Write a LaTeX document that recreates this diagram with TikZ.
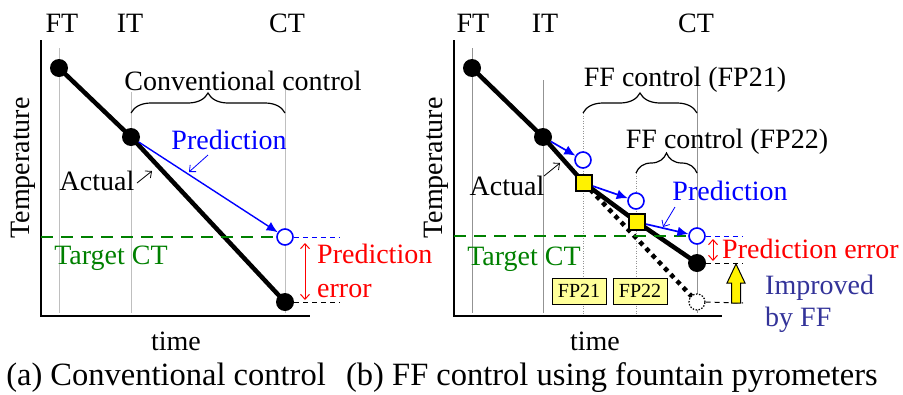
\documentclass[tikz,border=0pt]{standalone}
\usepackage{fontspec}
\setmainfont{Liberation Serif}
\usetikzlibrary{arrows.meta,decorations.pathreplacing}
\definecolor{tgreen}{RGB}{0,128,0}
\definecolor{impblue}{RGB}{51,51,153}
\definecolor{fpyellow}{RGB}{255,255,153}
\pgfdeclarelayer{bg}
\pgfsetlayers{bg,main}

\begin{document}
\begin{tikzpicture}[x=1pt,y=-1pt,
  lbl/.style={inner sep=0pt, font=\fontsize{28}{32}\selectfont},
  captxt/.style={inner sep=0pt, font=\fontsize{32.5}{36}\selectfont},
  axisline/.style={line width=1.6pt},
  guide/.style={gray!50, line width=0.8pt},
  guideb/.style={gray!85, line width=0.7pt},
  fpguide/.style={gray!85, line width=0.7pt, dash pattern=on 1pt off 1.5pt},
  actual/.style={line width=4.5pt},
  ghostline/.style={line width=4.5pt, dash pattern=on 4.5pt off 4.5pt},
  bdot/.style={circle, fill=black, inner sep=0pt, minimum size=18pt},
  pcirc/.style={circle, draw=blue, line width=1.6pt, fill=white, inner sep=0pt, minimum size=16pt},
  fpsq/.style={rectangle, draw=black, line width=2pt, fill=yellow, inner sep=0pt, minimum size=16pt},
  ghost/.style={circle, draw=black, line width=1.2pt, dash pattern=on 1.5pt off 1.5pt, fill=white, inner sep=0pt, minimum size=16pt},
  predarrow/.style={blue, line width=1.7pt, -{Latex[length=11pt,width=10pt]}},
  note/.style={line width=0.8pt, -{Straight Barb[length=5pt,width=9pt]}},
  errarrow/.style={red, line width=1pt, {Straight Barb[length=5pt,width=9pt]}-{Straight Barb[length=5pt,width=9pt]}},
  target/.style={tgreen, line width=2.5pt, dash pattern=on 12pt off 8pt},
  lvl/.style={line width=1pt, dash pattern=on 5pt off 4pt},
  curly/.style={line width=1.2pt, decorate, decoration={brace, amplitude=20pt}},
  fpbox/.style={draw=black, line width=1pt, fill=fpyellow, minimum width=54pt, minimum height=26pt, inner sep=0pt, font=\fontsize{20}{22}\selectfont},
]
\useasboundingbox (0,0) rectangle (903,394);

% ---------------- (a) conventional control ----------------
% axes and time marks
\coordinate (aYt) at (41,40);
\coordinate (aO) at (41,316);
\coordinate (aXe) at (310,316);
\coordinate (aFTt) at (59,48);   \coordinate (aFTb) at (59,313);
\coordinate (aITt) at (131,92);  \coordinate (aITb) at (131,313);
\coordinate (aCTt) at (285,82);  \coordinate (aCTb) at (285,313);
\coordinate (aTgt0) at (41,237);
\coordinate (aPend) at (340,237);
\coordinate (aCend) at (340,302);
\coordinate (aBrL) at (131,113);
\coordinate (aBrR) at (285,113);

\node[bdot] (aFT) at (59,68) {};
\node[bdot] (aIT) at (131,137) {};
\node[bdot] (aCT) at (285,302) {};
\node[pcirc] (aP) at (285,237) {};

\begin{pgfonlayer}{bg}
  \draw[guide] (aFTt) -- (aFTb);
  \draw[guide] (aITt) -- (aITb);
  \draw[guide] (aCTt) -- (aCTb);
  \draw[axisline] (aYt) -- (aO) -- (aXe);
  \draw[actual] (aFT.center) -- (aIT.center) -- (aCT.center);
  \draw[target] (aTgt0) -- (aP.west);
  \draw[lvl, blue] (aP.east) -- (aPend);
  \draw[lvl] (aCT.east) -- (aCend);
\end{pgfonlayer}

\draw[predarrow, line width=1.4pt] (aIT) -- (aP);
\draw[curly] (aBrL) -- (aBrR);

\node[lbl, anchor=base] (aFTl) at (62,32) {FT};
\node[lbl, anchor=base] (aITl) at (130,32) {IT};
\node[lbl, anchor=base] (aCTl) at (287,32) {CT};
\node[lbl, anchor=base] (aConv) at (243,90) {Conventional control};
\node[lbl, anchor=base, text=blue] (aPred) at (229,149) {Prediction};
\node[lbl, anchor=base] (aAct) at (97,190) {Actual};
\node[lbl, anchor=base, text=tgreen] (aTgt) at (111,264) {Target CT};
\node[lbl, anchor=base west, text=red] (aErr1) at (317,263) {Prediction};
\node[lbl, anchor=base west, text=red] (aErr2) at (317,297) {error};
\node[lbl, rotate=90] (aTemp) at (23,168) {Temperature};
\node[lbl, anchor=base] (aTime) at (176,350) {time};
\node[captxt, anchor=base] (aCap) at (166,385) {(a) Conventional control};

\coordinate (aActS) at (137,183);  \coordinate (aActE) at (152,171);
\coordinate (aPrS) at (208,155);   \coordinate (aPrE) at (189,172);
\coordinate (aErrT) at (305,243);  \coordinate (aErrB) at (305,300);
\draw[note] (aActS) -- (aActE);
\draw[note, blue] (aPrS) -- (aPrE);
\draw[errarrow] (aErrT) -- (aErrB);

% ---------------- (b) FF control with fountain pyrometers ----------------
\coordinate (bYt) at (454,40);
\coordinate (bO) at (454,316);
\coordinate (bXe) at (722,316);
\coordinate (bFTt) at (472,48);   \coordinate (bFTb) at (472,313);
\coordinate (bITt) at (543,80);   \coordinate (bITb) at (543,313);
\coordinate (bCTt) at (697,83);   \coordinate (bCTb) at (697,313);
\coordinate (bF1t) at (583,113);  \coordinate (bF1b) at (583,316);
\coordinate (bF2t) at (636,173);  \coordinate (bF2b) at (636,316);
\coordinate (bTgt0) at (454,236);
\coordinate (bPend) at (743,236);
\coordinate (bCend) at (743,263);
\coordinate (bGend) at (743,303);
\coordinate (bBr1L) at (583,113);
\coordinate (bBr1R) at (697,113);
\coordinate (bBr2L) at (636,173);
\coordinate (bBr2R) at (697,173);

\node[bdot] (bFT) at (472,68) {};
\node[bdot] (bIT) at (543,137) {};
\node[pcirc] (bC1) at (583,160) {};
\node[pcirc] (bC2) at (636,201) {};
\node[pcirc] (bC3) at (697,236) {};
\node[fpsq] (bS1) at (584,183) {};
\node[fpsq] (bS2) at (637,222) {};
\node[bdot] (bCT) at (697,263) {};
\node[ghost] (bG) at (697,302) {};

\begin{pgfonlayer}{bg}
  \draw[guideb] (bFTt) -- (bFTb);
  \draw[guideb] (bITt) -- (bITb);
  \draw[guideb] (bCTt) -- (bCTb);
  \draw[fpguide] (bF1t) -- (bF1b);
  \draw[fpguide] (bF2t) -- (bF2b);
  \draw[axisline] (bYt) -- (bO) -- (bXe);
  \draw[ghostline] (bS1.center) -- (bG.center);
  \draw[actual] (bFT.center) -- (bIT.center) -- (bS1.center) -- (bS2.center) -- (bCT.center);
  \draw[target] (bTgt0) -- (bC3.west);
  \draw[lvl, blue] (bC3.east) -- (bPend);
  \draw[lvl] (bCT.east) -- (bCend);
  \draw[lvl] (bG.east) -- (bGend);
\end{pgfonlayer}

\draw[predarrow] (bIT) -- (bC1);
\draw[predarrow] (bS1) -- (bC2);
\draw[predarrow] (bS2) -- (bC3);
\draw[curly] (bBr1L) -- (bBr1R);
\draw[curly] (bBr2L) -- (bBr2R);

% upward arrow showing the gain of feed-forward control
\draw[fill=yellow, line width=1pt, shift={(736,303)}]
  (-4.5,0) -- (4.5,0) -- (4.5,-20) -- (9,-20) -- (0,-39) -- (-9,-20) -- (-4.5,-20) -- cycle;

\node[fpbox] (bFP21) at (579,291) {FP21};
\node[fpbox] (bFP22) at (640,291) {FP22};

\node[lbl, anchor=base] (bFTl) at (473,32) {FT};
\node[lbl, anchor=base] (bITl) at (545,32) {IT};
\node[lbl, anchor=base] (bCTl) at (696,32) {CT};
\node[lbl, anchor=base] (bFF1) at (685,86) {FF control (FP21)};
\node[lbl, anchor=base] (bFF2) at (727,148) {FF control (FP22)};
\node[lbl, anchor=base, text=blue] (bPred) at (730,200) {Prediction};
\node[lbl, anchor=base] (bAct) at (507,195) {Actual};
\node[lbl, anchor=base, text=tgreen] (bTgt) at (524,265) {Target CT};
\node[lbl, anchor=base west, text=red] (bErr) at (722,258) {Prediction error};
\node[lbl, anchor=base west, text=impblue] (bImp1) at (765,294) {Improved};
\node[lbl, anchor=base west, text=impblue] (bImp2) at (765,326) {by FF};
\node[lbl, rotate=90] (bTemp) at (436,168) {Temperature};
\node[lbl, anchor=base] (bTime) at (595,350) {time};
\node[captxt, anchor=base] (bCap) at (612,385) {(b) FF control using fountain pyrometers};

\coordinate (bActS) at (544,176);  \coordinate (bActE) at (560,163);
\coordinate (bPrS) at (675,207);   \coordinate (bPrE) at (663,227);
\coordinate (bErrT) at (713,239);  \coordinate (bErrB) at (713,261);
\draw[note] (bActS) -- (bActE);
\draw[note, blue] (bPrS) -- (bPrE);
\draw[errarrow] (bErrT) -- (bErrB);
\end{tikzpicture}
\end{document}
